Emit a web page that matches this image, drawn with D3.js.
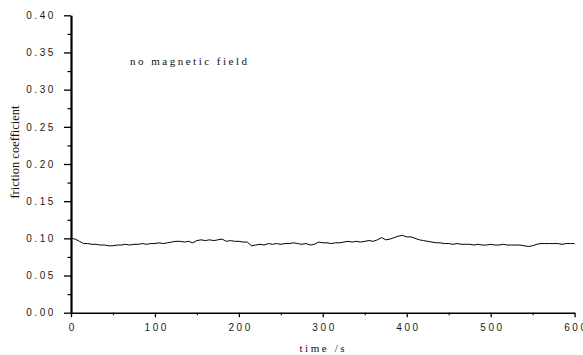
<!DOCTYPE html>
<html>
<head>
<meta charset="utf-8">
<script src="https://cdn.jsdelivr.net/npm/d3@7"></script>
<style>
  body { margin: 0; background: #fff; }
  svg { display: block; }
</style>
</head>
<body>
<svg id="chart" width="583" height="355"></svg>
<script>
// time axis (s) and friction coefficient
var timeValues = [0,5,10,15,20,25,30,35,40,45,50,55,60,65,70,75,80,85,90,95,
  100,105,110,115,120,125,130,135,140,145,150,155,160,165,170,175,180,185,190,195,
  200,205,210,215,220,225,230,235,240,245,250,255,260,265,270,275,280,285,290,295,
  300,305,310,315,320,325,330,335,340,345,350,355,360,365,370,375,380,385,390,395,
  400,405,410,415,420,425,430,435,440,445,450,455,460,465,470,475,480,485,490,495,
  500,505,510,515,520,525,530,535,540,545,550,555,560,565,570,575,580,585,590,595,600];
var frictionValues = [0.100,0.099,0.096,0.093,0.093,0.092,0.092,0.091,0.091,0.090,
  0.090,0.091,0.091,0.092,0.091,0.092,0.092,0.093,0.092,0.093,
  0.093,0.094,0.093,0.094,0.095,0.096,0.096,0.095,0.096,0.094,
  0.097,0.098,0.097,0.098,0.097,0.098,0.099,0.096,0.097,0.096,
  0.096,0.095,0.095,0.090,0.091,0.092,0.091,0.093,0.092,0.093,
  0.092,0.093,0.093,0.094,0.093,0.092,0.093,0.091,0.092,0.095,
  0.094,0.094,0.093,0.094,0.094,0.095,0.096,0.095,0.096,0.095,
  0.096,0.097,0.096,0.098,0.101,0.098,0.099,0.101,0.103,0.104,
  0.102,0.102,0.100,0.098,0.097,0.096,0.095,0.094,0.094,0.093,
  0.093,0.092,0.093,0.092,0.092,0.092,0.091,0.092,0.091,0.091,
  0.092,0.091,0.091,0.092,0.091,0.091,0.091,0.091,0.090,0.089,
  0.090,0.092,0.093,0.093,0.093,0.093,0.093,0.092,0.093,0.093,0.093];
var xTicks = [0, 100, 200, 300, 400, 500, 600];
var xMinorTicks = [50, 150, 250, 350, 450, 550];
var yTicks = [0.00, 0.05, 0.10, 0.15, 0.20, 0.25, 0.30, 0.35, 0.40];
var yMinorTicks = [0.025, 0.075, 0.125, 0.175, 0.225, 0.275, 0.325, 0.375];
var annotationText = "no magnetic field";
var xTitle = "time /s";
var yTitle = "friction coefficient";

var svg = d3.select("#chart");
var plotLeft = 71, plotRight = 574.6, plotTop = 15.3, plotBottom = 312.7;
var spacing = 2.6;

var xScale = d3.scaleLinear().domain([0, 600]).range([plotLeft, plotRight]);
var yScale = d3.scaleLinear().domain([0, 0.4]).range([plotBottom, plotTop]);

// minor ticks first, major axes drawn on top
svg.append("g")
    .attr("transform", "translate(0," + plotBottom + ")")
    .call(d3.axisBottom(xScale).tickValues(xMinorTicks).tickSize(2.5).tickFormat(""))
    .call(function (g) { g.select(".domain").remove(); })
    .selectAll("line").attr("stroke", "#000").attr("stroke-width", 1.2);

svg.append("g")
    .attr("transform", "translate(" + plotLeft + ",0)")
    .call(d3.axisLeft(yScale).tickValues(yMinorTicks).tickSize(3.5).tickFormat(""))
    .call(function (g) { g.select(".domain").remove(); })
    .selectAll("line").attr("stroke", "#000").attr("stroke-width", 1.2);

var xAxis = svg.append("g")
    .attr("transform", "translate(0," + plotBottom + ")")
    .call(d3.axisBottom(xScale).tickValues(xTicks).tickSize(4.5).tickSizeOuter(0).tickPadding(7)
        .tickFormat(d3.format("d")));
xAxis.select(".domain").attr("stroke", "#000").attr("stroke-width", 1.5);
xAxis.selectAll("line").attr("stroke", "#000").attr("stroke-width", 1.3);
xAxis.selectAll("text")
    .attr("font-family", "Liberation Sans, Arial, sans-serif")
    .attr("font-size", "10px")
    .attr("letter-spacing", spacing + "px")
    .attr("fill", "#1a1a1a")
    .attr("dx", spacing / 2);

var yAxis = svg.append("g")
    .attr("transform", "translate(" + plotLeft + ",0)")
    .call(d3.axisLeft(yScale).tickValues(yTicks).tickSize(7).tickSizeOuter(0).tickPadding(12.7 - spacing)
        .tickFormat(d3.format(".2f")));
yAxis.select(".domain").attr("stroke", "#000").attr("stroke-width", 2.2);
yAxis.selectAll("line").attr("stroke", "#000").attr("stroke-width", 1.3);
yAxis.selectAll("text")
    .attr("font-family", "Liberation Sans, Arial, sans-serif")
    .attr("font-size", "10px")
    .attr("letter-spacing", spacing + "px")
    .attr("fill", "#1a1a1a")
    .attr("dx", spacing - 0.5);

// the friction trace
var line = d3.line()
    .x(function (d, i) { return xScale(timeValues[i]); })
    .y(function (d) { return yScale(d); });

svg.append("path")
    .datum(frictionValues)
    .attr("d", line)
    .attr("fill", "none")
    .attr("stroke", "#000")
    .attr("stroke-width", 1);

svg.append("text")
    .attr("x", 130)
    .attr("y", 65)
    .attr("font-family", "Liberation Serif, Times New Roman, serif")
    .attr("font-size", "11px")
    .attr("letter-spacing", "2.5px")
    .attr("fill", "#111")
    .text(annotationText);

svg.append("text")
    .attr("x", 322 + 1.3)
    .attr("y", 351.5)
    .attr("text-anchor", "middle")
    .attr("font-family", "Liberation Serif, Times New Roman, serif")
    .attr("font-size", "11px")
    .attr("letter-spacing", "2.6px")
    .attr("fill", "#111")
    .text(xTitle);

svg.append("text")
    .attr("transform", "translate(19,152) rotate(-90)")
    .attr("text-anchor", "middle")
    .attr("font-family", "Liberation Serif, Times New Roman, serif")
    .attr("font-size", "12.5px")
    .attr("fill", "#111")
    .text(yTitle);
</script>
</body>
</html>
